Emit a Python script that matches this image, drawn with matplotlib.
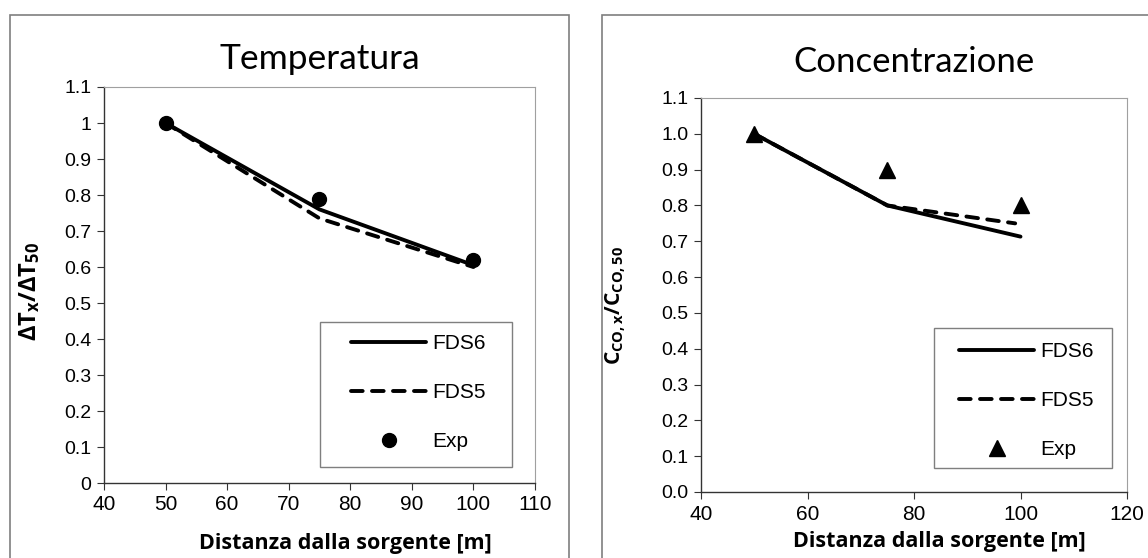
import matplotlib
matplotlib.use('Agg')
import matplotlib.pyplot as plt
from matplotlib.patches import Rectangle
from matplotlib.ticker import FixedLocator, FuncFormatter

plt.rcParams['font.family'] = ['Liberation Sans', 'DejaVu Sans']
plt.rcParams['mathtext.fontset'] = 'custom'
plt.rcParams['mathtext.rm'] = 'Open Sans'
plt.rcParams['mathtext.bf'] = 'Open Sans:bold'

# Temperatura
temp_x = [50, 75, 100]
temp_fds6 = [1.0, 0.76, 0.605]
temp_fds5 = [1.0, 0.735, 0.60]
temp_exp = [1.0, 0.79, 0.62]

# Concentrazione
conc_x = [50, 75, 100]
conc_fds6 = [1.0, 0.80, 0.713]
conc_x5 = [50, 75, 99]
conc_fds5 = [1.0, 0.80, 0.75]
conc_exp = [1.0, 0.90, 0.80]

W, H = 1148, 558
fig = plt.figure(figsize=(W / 100, H / 100), dpi=100)

# panel frames
for x0, x1 in [(10, 569), (602, 1160)]:
    fig.patches.append(Rectangle((x0 / W, -0.05), (x1 - x0) / W, 1.05 - 15 / H,
                                 transform=fig.transFigure, fill=False,
                                 edgecolor='#7f7f7f', linewidth=1.2))

dash = (0, (3.0, 2.4))
LW = 2.8


def px_axes(box):
    # box = (left, top, right, bottom) in image pixels
    l, t, r, b = box
    return fig.add_axes([l / W, 1 - b / H, (r - l) / W, (b - t) / H])


def to_ax(box, x, y):
    l, t, r, b = box
    return (x - l) / (r - l), (b - y) / (b - t)


def style_axes(ax, xticks, yfmt):
    ax.set_ylim(0, 1.1)
    ax.set_xlim(xticks[0], xticks[-1])
    ax.xaxis.set_major_locator(FixedLocator(xticks))
    ax.yaxis.set_major_locator(FixedLocator([i / 10 for i in range(12)]))
    ax.yaxis.set_major_formatter(FuncFormatter(yfmt))
    for s in ['top', 'right']:
        ax.spines[s].set_color('#a0a0a0')
        ax.spines[s].set_linewidth(0.8)
    for s in ['left', 'bottom']:
        ax.spines[s].set_color('#333333')
        ax.spines[s].set_linewidth(1.0)
    ax.tick_params(direction='out', length=5, width=0.8, color='#333333')
    ax.tick_params(axis='x', labelsize=15, pad=4)
    ax.tick_params(axis='y', labelsize=14, pad=4)


def legend(ax, box, frame, handle_x, row1_y):
    l, t, r, b = frame
    fx0, fy1 = to_ax(box, l, t)
    fx1, fy0 = to_ax(box, r, b)
    ax.add_patch(Rectangle((fx0, fy0), fx1 - fx0, fy1 - fy0, transform=ax.transAxes,
                           facecolor='white', edgecolor='#7f7f7f', linewidth=1.0,
                           zorder=4))
    leg = ax.legend(loc='upper left', bbox_to_anchor=to_ax(box, handle_x, row1_y - 12),
                    frameon=False, handlelength=3.6, handletextpad=0.3,
                    labelspacing=1.45, borderpad=0, borderaxespad=0,
                    prop=dict(family='Liberation Sans', size=15))
    leg.set_zorder(5)


# left panel
box1 = (104, 87, 535, 483)
ax1 = px_axes(box1)
ax1.plot(temp_x, temp_fds6, color='black', lw=LW, solid_capstyle='round', label='FDS6')
ax1.plot(temp_x, temp_fds5, color='black', lw=LW, linestyle=dash, dash_capstyle='round', label='FDS5')
ax1.plot(temp_x, temp_exp, 'o', color='black', ms=10, label='Exp')
style_axes(ax1, [40, 50, 60, 70, 80, 90, 100, 110], lambda v, p: f'{v:g}')
ax1.set_title('Temperatura', family='Lato', fontsize=25.5, pad=13)
ax1.set_xlabel('Distanza dalla sorgente [m]', family='Open Sans', weight='bold', fontsize=15.5)
ax1.xaxis.set_label_coords(0.56, -0.125)
ax1.set_ylabel(r'$\mathbf{\Delta T_x/\Delta T_{50}}$', fontsize=17)
ax1.yaxis.set_label_coords(to_ax(box1, 42, 0)[0], to_ax(box1, 0, 291)[1])
legend(ax1, box1, (320, 322, 512, 467), 351, 346)

# right panel
box2 = (701, 98, 1127, 492)
ax2 = px_axes(box2)
ax2.plot(conc_x, conc_fds6, color='black', lw=LW, solid_capstyle='round', label='FDS6')
ax2.plot(conc_x5, conc_fds5, color='black', lw=LW, linestyle=dash, dash_capstyle='round', label='FDS5')
ax2.plot(conc_x, conc_exp, '^', color='black', ms=11, label='Exp')
style_axes(ax2, [40, 60, 80, 100, 120], lambda v, p: f'{v:.1f}')
ax2.set_title('Concentrazione', family='Lato', fontsize=25, pad=19)
ax2.set_xlabel('Distanza dalla sorgente [m]', family='Open Sans', weight='bold', fontsize=15.5)
ax2.xaxis.set_label_coords(0.56, -0.10)
ax2.set_ylabel(r'$\mathbf{C_{CO,x}/C_{CO,50}}$', fontsize=15)
ax2.yaxis.set_label_coords(to_ax(box2, 628, 0)[0], to_ax(box2, 0, 306)[1])
legend(ax2, box2, (934, 328, 1112, 468), 959, 354)

fig.savefig('out.png', dpi=100)
